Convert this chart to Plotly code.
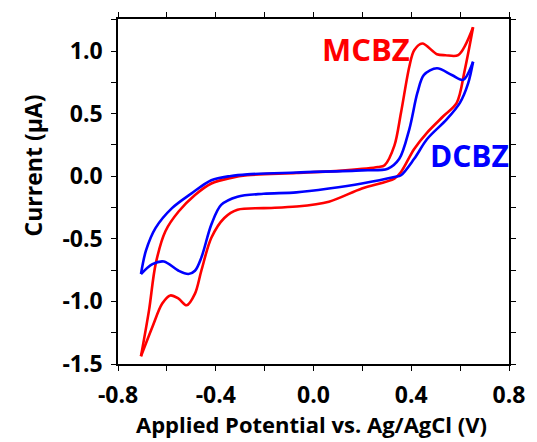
import plotly.graph_objects as go

# MCBZ (red) forward / reverse branches
red_fwd_x = [-0.706, -0.673, -0.646, -0.606, -0.552, -0.485, -0.418, -0.338, -0.271, -0.070, 0.131, 0.264,
             0.291, 0.331, 0.358, 0.392, 0.412, 0.445, 0.505, 0.540, 0.592, 0.653]
red_fwd_y = [-1.438, -1.07, -0.702, -0.439, -0.282, -0.150, -0.058, -0.013, 0.008, 0.026, 0.047, 0.073,
             0.088, 0.244, 0.507, 0.875, 1.006, 1.06, 0.975, 0.967, 0.967, 1.19]
red_rev_x = [0.653, 0.619, 0.586, 0.532, 0.465, 0.412, 0.358, 0.331, 0.198, 0.063, -0.070, -0.204, -0.311,
             -0.365, -0.418, -0.459, -0.485, -0.519, -0.552, -0.586, -0.619, -0.659, -0.706]
red_rev_y = [1.19, 0.849, 0.586, 0.481, 0.349, 0.218, 0.034, -0.019, -0.098, -0.203, -0.242, -0.255, -0.268,
             -0.334, -0.492, -0.755, -0.938, -1.031, -0.978, -0.952, -1.017, -1.202, -1.438]

# DCBZ (blue) forward / reverse branches
blue_fwd_x = [-0.706, -0.686, -0.646, -0.579, -0.499, -0.418, -0.338, -0.271, -0.070, 0.198, 0.304,
              0.351, 0.392, 0.425, 0.452, 0.505, 0.566, 0.612, 0.653]
blue_fwd_y = [-0.781, -0.597, -0.413, -0.255, -0.137, -0.032, 0.002, 0.015, 0.030, 0.047, 0.060,
              0.139, 0.375, 0.665, 0.809, 0.862, 0.809, 0.770, 0.915]
blue_rev_x = [0.653, 0.633, 0.599, 0.545, 0.465, 0.412, 0.358, 0.331, 0.198, 0.063, -0.070, -0.204, -0.311,
              -0.378, -0.418, -0.459, -0.485, -0.512, -0.552, -0.612, -0.659, -0.706]
blue_rev_y = [0.915, 0.744, 0.586, 0.454, 0.297, 0.139, 0.008, -0.006, -0.058, -0.098, -0.129, -0.140, -0.163,
              -0.229, -0.386, -0.650, -0.755, -0.781, -0.755, -0.681, -0.702, -0.781]

x_ticks = [-0.8, -0.4, 0.0, 0.4, 0.8]
x_tick_labels = ["-0.8", "-0.4", "0.0", "0.4", "0.8"]
y_ticks = [-1.5, -1.0, -0.5, 0.0, 0.5, 1.0]
y_tick_labels = ["-1.5", "-1.0", "-0.5", "0.0", "0.5", "1.0"]

RED = "#FF0000"
BLUE = "#0000FF"
LW = 2.6

fig = go.Figure()
for xs, ys, c in [(red_fwd_x, red_fwd_y, RED), (red_rev_x, red_rev_y, RED),
                  (blue_fwd_x, blue_fwd_y, BLUE), (blue_rev_x, blue_rev_y, BLUE)]:
    fig.add_trace(go.Scatter(x=xs, y=ys, mode="lines",
                             line=dict(color=c, width=LW, shape="spline", smoothing=0.9),
                             showlegend=False, hoverinfo="skip"))

FONT = "Open Sans, sans-serif"
tickfont = dict(family=FONT, size=23, color="black", weight="bold")

fig.update_layout(
    width=537, height=442,
    margin=dict(l=118, r=20, t=15, b=78),
    paper_bgcolor="white", plot_bgcolor="white",
    showlegend=False,
    xaxis=dict(range=[-0.8, 0.8], tickvals=x_ticks, ticktext=x_tick_labels,
               ticks="outside", ticklen=5, tickwidth=1.3, tickcolor="black",
               showline=True, linecolor="black", linewidth=1.5, mirror="allticks",
               showgrid=False, zeroline=False, tickfont=tickfont, ticklabelstandoff=5,
               minor=dict(dtick=0.2, ticks="outside", ticklen=5, tickwidth=1.3, tickcolor="black", showgrid=False)),
    yaxis=dict(range=[-1.5, 1.256], tickvals=y_ticks, ticktext=y_tick_labels,
               ticks="outside", ticklen=5, tickwidth=1.3, tickcolor="black",
               showline=True, linecolor="black", linewidth=1.5, mirror="allticks",
               showgrid=False, zeroline=False, tickfont=tickfont, ticklabelstandoff=4,
               minor=dict(dtick=0.25, ticks="outside", ticklen=5, tickwidth=1.3, tickcolor="black", showgrid=False)),
    annotations=[
        dict(text="MCBZ", x=0.215, y=1.017, xref="x", yref="y", showarrow=False,
             font=dict(family=FONT, size=31, color=RED, weight="bold"), xanchor="center", yanchor="middle"),
        dict(text="DCBZ", x=0.639, y=0.166, xref="x", yref="y", showarrow=False,
             font=dict(family=FONT, size=30, color=BLUE, weight="bold"), xanchor="center", yanchor="middle"),
        dict(text="Applied Potential vs. Ag/AgCl (V)", x=0.496, y=-0.174, xref="paper", yref="paper",
             showarrow=False, font=dict(family=FONT, size=22, color="black", weight="bold"),
             xanchor="center", yanchor="middle"),
        dict(text="Current (μA)", x=-0.217, y=0.576, xref="paper", yref="paper", textangle=-90,
             showarrow=False, font=dict(family=FONT, size=23, color="black", weight="bold"),
             xanchor="center", yanchor="middle"),
    ],
)

fig.write_html("out.html")
